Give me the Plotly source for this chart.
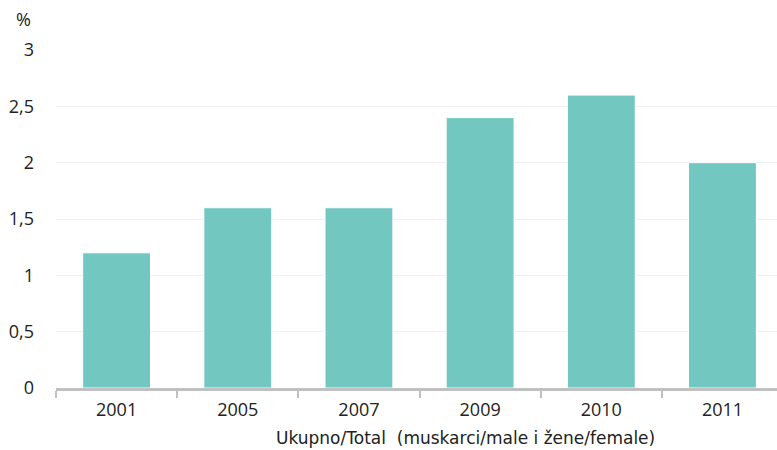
import plotly.graph_objects as go

years = ["2001", "2005", "2007", "2009", "2010", "2011"]
values = [1.2, 1.6, 1.6, 2.4, 2.6, 2.0]
y_ticks = [0, 0.5, 1, 1.5, 2, 2.5, 3]
y_tick_labels = ["0", "0,5", "1", "1,5", "2", "2,5", "3"]

font_family = "Open Sans, Noto Sans, sans-serif"
title_family = "DejaVu Sans"

fig = go.Figure(
    go.Bar(
        x=years,
        y=values,
        marker=dict(color="#72c7c0", line=dict(color="#ffffff", width=1)),
        width=0.56,
        hoverinfo="x+y",
    )
)

fig.update_layout(
    width=777,
    height=450,
    margin=dict(l=56, r=0, t=50, b=62),
    paper_bgcolor="#ffffff",
    plot_bgcolor="#ffffff",
    font=dict(family=font_family, size=18, color="#222222"),
    showlegend=False,
    xaxis=dict(
        type="category",
        range=[-0.5, 5.45],
        tickson="boundaries",
        ticks="outside",
        ticklen=7,
        tickwidth=2,
        tickcolor="#c0c0c0",
        showline=True,
        linecolor="#c0c0c0",
        linewidth=3,
        showgrid=False,
        tickfont=dict(size=18),
        ticklabelstandoff=3,
    ),
    yaxis=dict(
        range=[0, 3],
        tickvals=y_ticks,
        ticktext=y_tick_labels,
        showgrid=True,
        gridcolor="#f0f0f0",
        gridwidth=1,
        zeroline=False,
        showline=False,
        ticks="",
        ticklabelstandoff=21,
        tickfont=dict(size=18),
    ),
    annotations=[
        dict(
            text="%",
            xref="paper", yref="paper",
            x=-0.045, y=1.0,
            yshift=31,
            xanchor="center", yanchor="middle",
            showarrow=False,
            font=dict(size=18),
        ),
        dict(
            text="Ukupno/Total  (muskarci/male i žene/female)",
            xref="paper", yref="paper",
            x=0.568, y=0,
            yshift=-50,
            xanchor="center", yanchor="middle",
            showarrow=False,
            font=dict(family=title_family, size=17, color="#222222"),
        ),
    ],
)

fig.write_html("out.html")
